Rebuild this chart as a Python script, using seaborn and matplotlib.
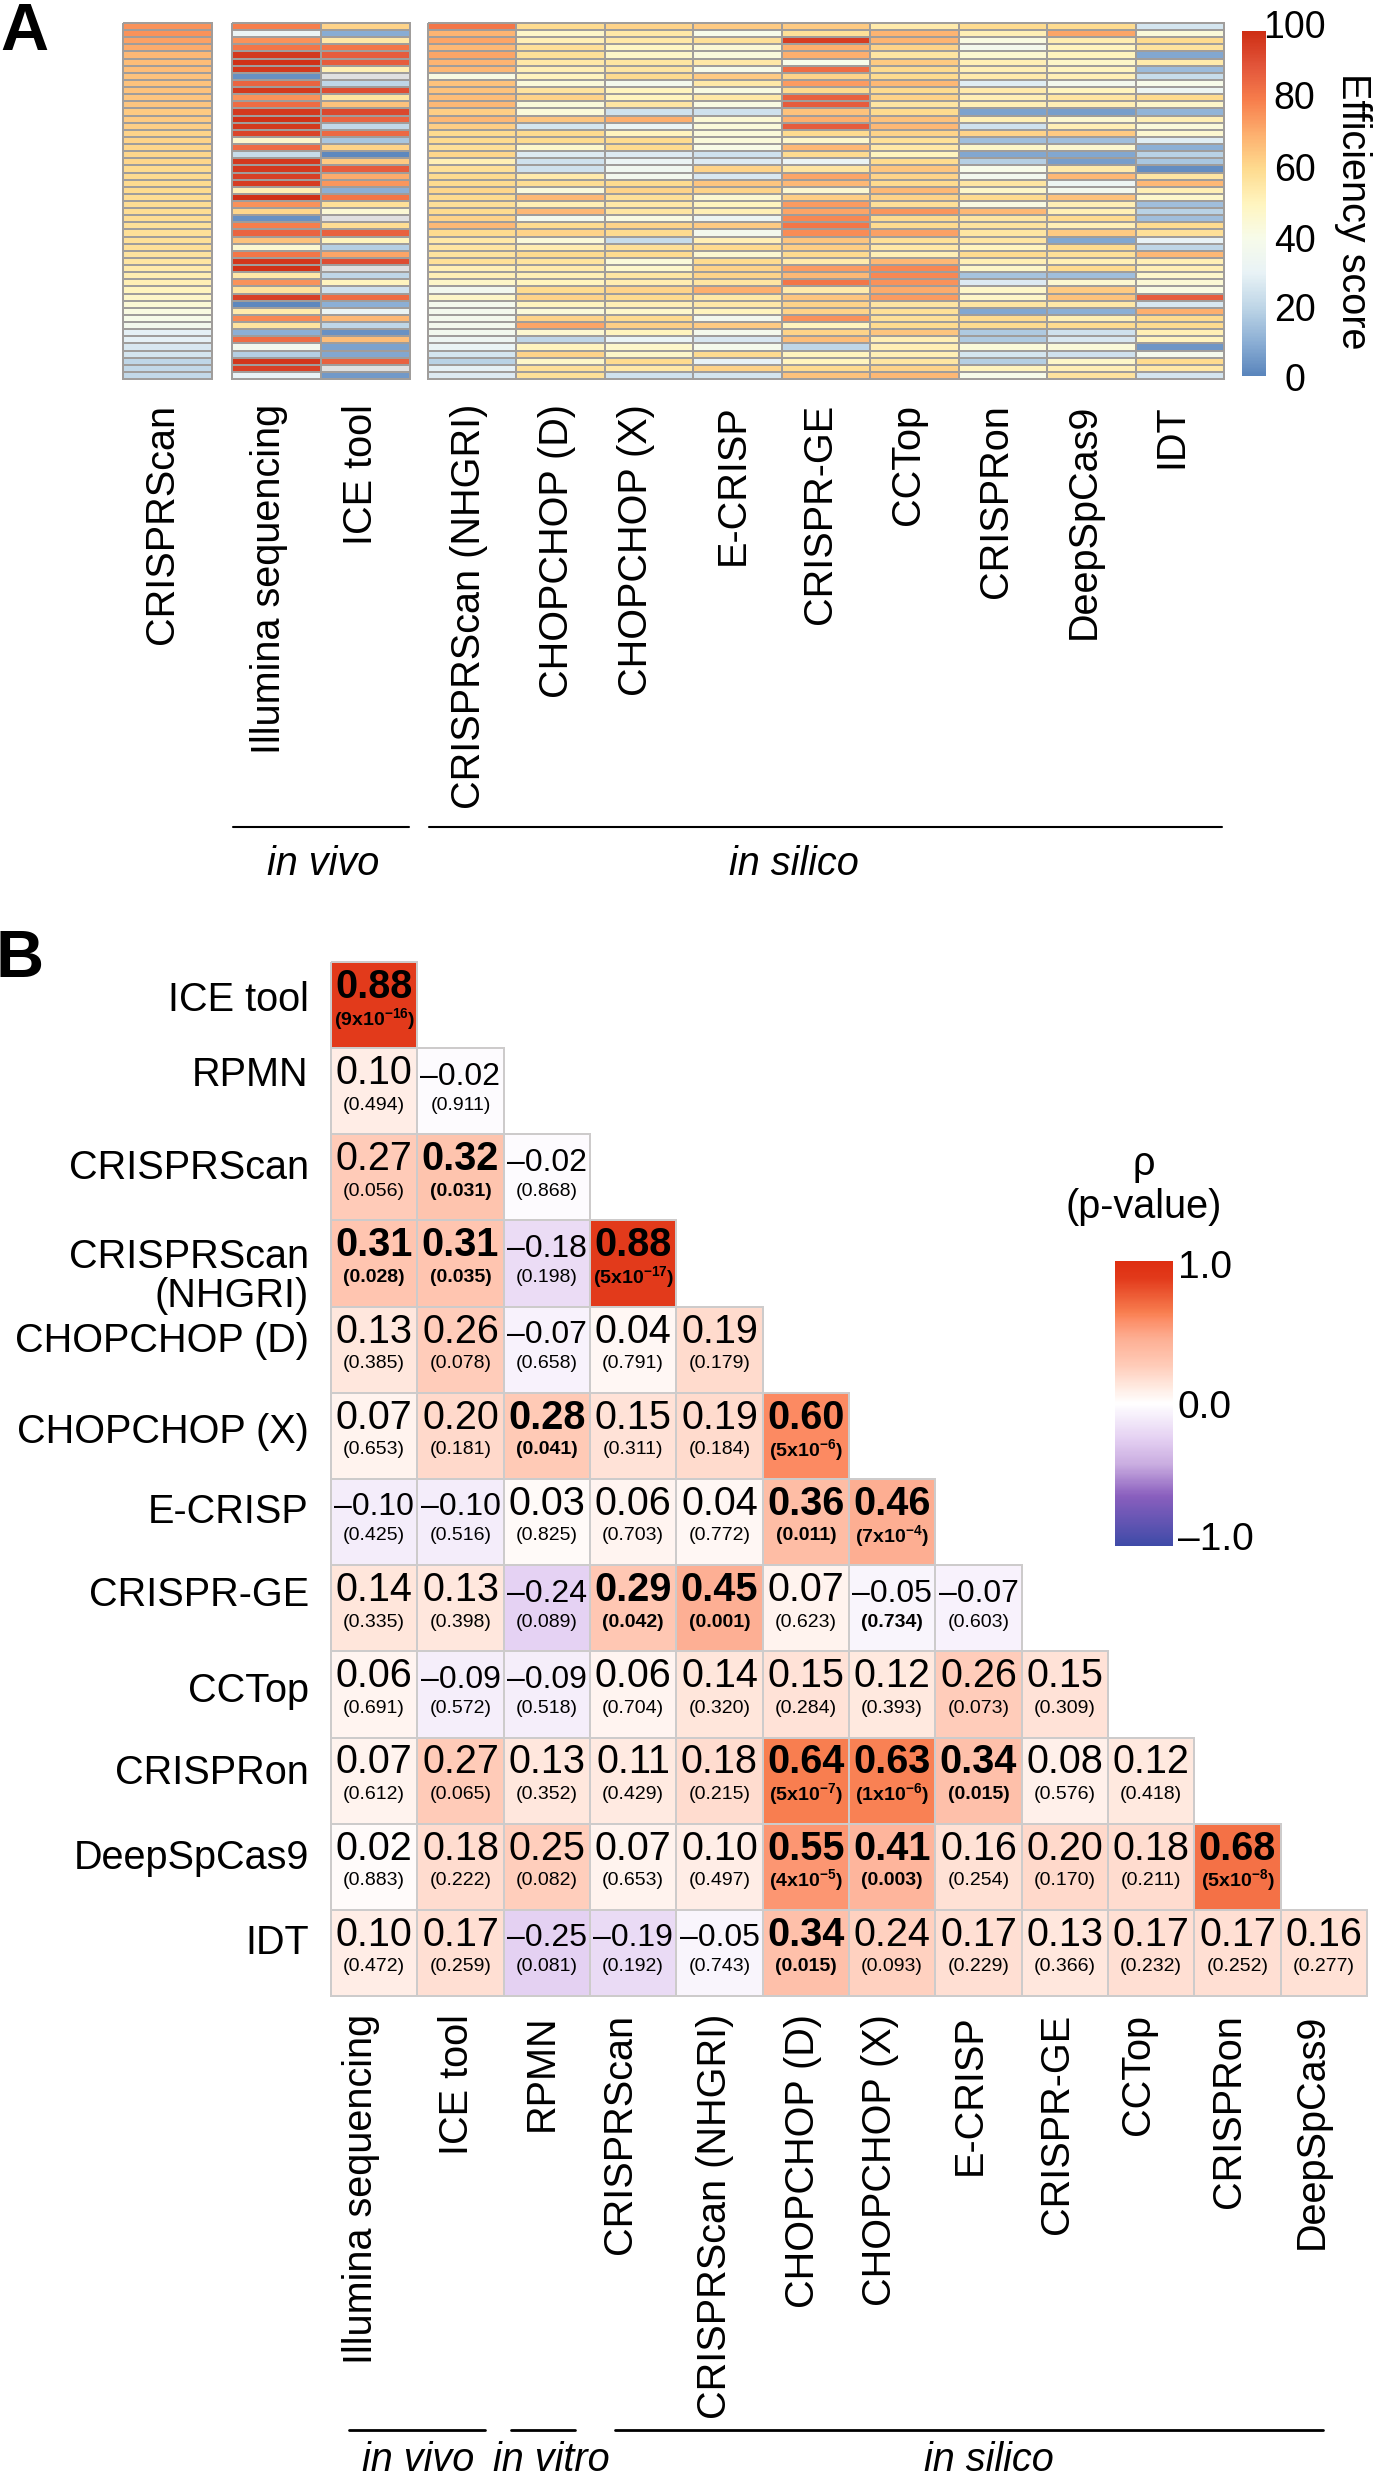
import numpy as np
import seaborn as sns
import matplotlib.pyplot as plt
from matplotlib.colors import LinearSegmentedColormap, to_rgba
from matplotlib.lines import Line2D
from matplotlib.transforms import ScaledTranslation

W, H = 1376, 2484

# panel A, scores, top row first (nan = grey cell)
crisprscan = [76, 76, 73, 71, 68, 67, 67, 66, 66, 66, 65, 65, 64, 64, 63, 62, 62, 61, 61, 61, 60, 60, 60, 60, 59,
              59, 59, 59, 58, 58, 58, 58, 57, 56, 54, 53, 52, 50, 48, 45, 42, 40, 37, 29, 29, 26, 25, 20, 21, 21]
illumina = [80, 32, 76, 82, 97, 99, 97, 3, 86, 97, 76, 84, 97, 99, 97, 94, 47, 84, 22, 97, 97, 95, 96, 52, 99,
            76, 61, 3, 80, 86, 66, 46, 82, 98, 99, 55, 76, 57, 95, 1, 54, 78, 57, 10, 84, 37, 18, 98, 95, 30]
ice_tool = [62, 9, 55, 82, 88, 88, 52, np.nan, 20, 92, 56, 66, 93, 86, 21, 85, 16, 62, 1, 64, 88, 71, 75, 10, 82,
            58, 45, np.nan, 59, 87, 50, 18, 72, 92, np.nan, 20, 50, 24, 84, 10, 32, 68, 20, 3, 67, 7, 8, 87, np.nan, 5]
nhgri = [82, 69, 72, 68, 72, 69, 68, 42, 66, 66, 67, 68, 63, 68, 63, 60, 60, 58, 61, 52, 58, 60, 60, 61, 60,
         58, 60, 62, 68, 60, 55, 56, 57, 58, 52, 52, 48, 36, 48, 38, 37, 37, 37, 36, 33, 31, 25, 19, 29, 27]
chop_d = [60, 48, 52, 58, 58, 55, 52, 50, 44, 57, 62, 44, 44, 65, 25, 60, 60, 47, 27, 24, 24, 54, 59, 43, 68,
          52, 68, 38, 60, 62, 44, 53, 60, 57, 54, 52, 50, 60, 62, 50, 44, 62, 72, 46, 20, 50, 62, 48, 58, 58]
chop_x = [62, 55, 55, 49, 48, 56, 56, 60, 38, 50, 50, 56, 24, 70, 32, 50, 60, 60, 27, 32, 35, 37, 60, 62, 58,
          55, 56, 42, 62, 60, 22, 58, 60, 44, 47, 56, 53, 62, 60, 52, 47, 60, 63, 50, 31, 47, 48, 60, 55, 24]
e_crisp = [64, 40, 58, 45, 43, 55, 40, 64, 55, 42, 55, 42, 24, 45, 44, 44, 44, 41, 24, 27, 62, 26, 65, 62, 46,
           50, 52, 33, 64, 37, 52, 60, 46, 60, 62, 62, 56, 70, 55, 55, 50, 37, 64, 38, 26, 39, 60, 30, 62, 25]
crispr_ge = [64, 58, 96, 70, 70, 40, 84, 62, 74, 60, 87, 88, 66, 70, 88, 60, 47, 68, 60, 32, 56, 72, 68, 46, 63,
             74, 72, 78, 82, 77, 65, 63, 60, 54, 74, 68, 82, 54, 65, 62, 62, 76, 50, 62, 67, 20, 50, 50, 60, 66]
cctop = [54, 69, 69, 62, 56, 64, 60, 60, 68, 60, 62, 56, 60, 66, 68, 62, 58, 55, 50, 60, 65, 62, 60, 68, 62,
         58, 75, 60, 60, 73, 58, 55, 52, 68, 78, 78, 76, 71, 74, 56, 58, 58, 60, 65, 52, 52, 52, 56, 62, 68]
crispron = [60, 52, 42, 38, 46, 52, 52, 54, 28, 54, 52, 52, 7, 52, 24, 62, 14, 48, 8, 18, 40, 36, 56, 48, 60,
            42, 68, 56, 57, 56, 56, 50, 60, 52, 48, 15, 27, 48, 48, 56, 8, 60, 60, 17, 17, 44, 25, 18, 50, 40]
deepspcas9 = [60, 72, 53, 50, 50, 48, 50, 52, 37, 50, 56, 52, 6, 46, 52, 64, 14, 46, 8, 6, 54, 68, 33, 37, 66,
              52, 52, 60, 52, 64, 8, 60, 58, 52, 60, 14, 46, 64, 66, 55, 10, 52, 60, 24, 26, 44, 24, 48, 52, 57]
idt = [25, 44, 60, 57, 8, 54, 13, 22, 40, 33, 60, 48, 11, 52, 44, 46, 28, 10, 19, 16, 2, 56, 68, 52, 47,
       14, 19, 14, 60, 58, 30, 20, 68, 52, 52, 47, 45, 42, 88, 26, 70, 60, 60, 52, 50, 4, 38, 60, 55, 25]

top_left = ['CRISPRScan']
top_mid = ['Illumina sequencing', 'ICE tool']
top_right = ['CRISPRScan (NHGRI)', 'CHOPCHOP (D)', 'CHOPCHOP (X)', 'E-CRISP', 'CRISPR-GE', 'CCTop',
             'CRISPRon', 'DeepSpCas9', 'IDT']
score_ticks = [0, 20, 40, 60, 80, 100]

# panel B
row_names = ['ICE tool', 'RPMN', 'CRISPRScan', 'CRISPRScan\n(NHGRI)', 'CHOPCHOP (D)', 'CHOPCHOP (X)', 'E-CRISP',
             'CRISPR-GE', 'CCTop', 'CRISPRon', 'DeepSpCas9', 'IDT']
col_names = ['Illumina sequencing', 'ICE tool', 'RPMN', 'CRISPRScan', 'CRISPRScan (NHGRI)', 'CHOPCHOP (D)',
             'CHOPCHOP (X)', 'E-CRISP', 'CRISPR-GE', 'CCTop', 'CRISPRon', 'DeepSpCas9']
rho = [[0.88],
       [0.10, -0.02],
       [0.27, 0.32, -0.02],
       [0.31, 0.31, -0.18, 0.88],
       [0.13, 0.26, -0.07, 0.04, 0.19],
       [0.07, 0.20, 0.28, 0.15, 0.19, 0.60],
       [-0.10, -0.10, 0.03, 0.06, 0.04, 0.36, 0.46],
       [0.14, 0.13, -0.24, 0.29, 0.45, 0.07, -0.05, -0.07],
       [0.06, -0.09, -0.09, 0.06, 0.14, 0.15, 0.12, 0.26, 0.15],
       [0.07, 0.27, 0.13, 0.11, 0.18, 0.64, 0.63, 0.34, 0.08, 0.12],
       [0.02, 0.18, 0.25, 0.07, 0.10, 0.55, 0.41, 0.16, 0.20, 0.18, 0.68],
       [0.10, 0.17, -0.25, -0.19, -0.05, 0.34, 0.24, 0.17, 0.13, 0.17, 0.17, 0.16]]
pvals = [['(9x10^{-16})'],
         ['(0.494)', '(0.911)'],
         ['(0.056)', '(0.031)', '(0.868)'],
         ['(0.028)', '(0.035)', '(0.198)', '(5x10^{-17})'],
         ['(0.385)', '(0.078)', '(0.658)', '(0.791)', '(0.179)'],
         ['(0.653)', '(0.181)', '(0.041)', '(0.311)', '(0.184)', '(5x10^{-6})'],
         ['(0.425)', '(0.516)', '(0.825)', '(0.703)', '(0.772)', '(0.011)', '(7x10^{-4})'],
         ['(0.335)', '(0.398)', '(0.089)', '(0.042)', '(0.001)', '(0.623)', '(0.734)', '(0.603)'],
         ['(0.691)', '(0.572)', '(0.518)', '(0.704)', '(0.320)', '(0.284)', '(0.393)', '(0.073)', '(0.309)'],
         ['(0.612)', '(0.065)', '(0.352)', '(0.429)', '(0.215)', '(5x10^{-7})', '(1x10^{-6})', '(0.015)', '(0.576)',
          '(0.418)'],
         ['(0.883)', '(0.222)', '(0.082)', '(0.653)', '(0.497)', '(4x10^{-5})', '(0.003)', '(0.254)', '(0.170)',
          '(0.211)', '(5x10^{-8})'],
         ['(0.472)', '(0.259)', '(0.081)', '(0.192)', '(0.743)', '(0.015)', '(0.093)', '(0.229)', '(0.366)', '(0.232)',
          '(0.252)', '(0.277)']]
# significant cells are bold, (0.734) is bold in the p-value only
p_only_bold = ['(0.734)']
rho_ticks = [-1, 0, 1]
rho_tick_labels = ['\u20131.0', '0.0', '1.0']

sns.set_theme(style='white')
plt.rcParams['font.family'] = ['Liberation Sans', 'DejaVu Sans']
plt.rcParams['mathtext.fontset'] = 'custom'
plt.rcParams['mathtext.rm'] = 'Liberation Sans'
plt.rcParams['mathtext.bf'] = 'Liberation Sans:bold'
plt.rcParams['axes.unicode_minus'] = False
plt.rcParams['text.color'] = 'black'
plt.rcParams['xtick.color'] = 'black'
plt.rcParams['ytick.color'] = 'black'

score_cmap = LinearSegmentedColormap.from_list('score', [
    (0.0, '#5A85BC'), (0.1, '#8DB0D5'), (0.2, '#BFD6E7'), (0.3, '#E9F3F6'), (0.4, '#F7FBE9'), (0.5, '#FFF5BF'),
    (0.6, '#FEDB8F'), (0.7, '#FDB06F'), (0.8, '#F77E4C'), (0.9, '#E2553A'), (1.0, '#CE2E14')])
score_cmap.set_bad('#E0E0E0')
rho_cmap = LinearSegmentedColormap.from_list('rho', [
    (0.0, '#3F4BA8'), (0.175, '#8A5FBE'), (0.285, '#C9ACE0'), (0.375, '#E4D0F2'), (0.5, '#FFFFFF'), (0.55, '#FFEDE5'),
    (0.635, '#FFCBB8'), (0.73, '#FDAE92'), (0.8, '#FC8A62'), (0.82, '#F87E50'), (0.94, '#E23A1B'), (1.0, '#DE2E10')])


def px_axes(fig, left, top, right, bottom):
    return fig.add_axes([left / W, 1 - bottom / H, (right - left) / W, (bottom - top) / H])


def shift(label, fig, dx=0, dy=0):
    # dx, dy in pixels, dy down
    label.set_transform(label.get_transform() + ScaledTranslation(dx / 100, -dy / 100, fig.dpi_scale_trans))


def bracket(fig, x0, x1, y, lw):
    fig.add_artist(Line2D([x0 / W, x1 / W], [1 - y / H, 1 - y / H], color='black', lw=lw))


def group_text(fig, x, y, text):
    fig.text(x / W, 1 - y / H, text, fontsize=28.5, style='italic', ha='center', va='center')


def score_panel(fig, box, columns, names, offsets, cax=None):
    ax = px_axes(fig, *box)
    values = np.array(columns, dtype=float).T
    sns.heatmap(values, ax=ax, cmap=score_cmap, vmin=0, vmax=100, linewidths=1.25, linecolor='#A09D9B',
                xticklabels=names, yticklabels=False, cbar=cax is not None, cbar_ax=cax)
    ax.collections[0].set_clip_on(False)
    ax.tick_params(axis='x', length=0, pad=18, labelsize=28.5)
    for label, dx in zip(ax.get_xticklabels(), offsets):
        label.set_rotation(90)
        label.set_ha('center')
        label.set_va('top')
        shift(label, fig, dx=dx)
    return ax


fig = plt.figure(figsize=(W / 100, H / 100), dpi=100)

# panel A
cax_top = px_axes(fig, 1242, 31, 1265.5, 376)
score_panel(fig, (123, 23, 212, 379), [crisprscan], top_left, [-5.5])
score_panel(fig, (232, 23, 410, 379), [illumina, ice_tool], top_mid, [-8, -4.5])
score_panel(fig, (428, 23, 1224, 379),
            [nhgri, chop_d, chop_x, e_crisp, crispr_ge, cctop, crispron, deepspcas9, idt],
            top_right, [-3, -4, -13, -5, -6, -6, -7, -8, -8], cax=cax_top)

cax_top.set_yticks(score_ticks)
cax_top.set_yticklabels([str(t) for t in score_ticks])
cax_top.tick_params(axis='y', length=0, pad=21, labelsize=27)
for label, dy in zip(cax_top.get_yticklabels(), [1, 0, 0, -2, -5, -7]):
    label.set_ha('center')
    shift(label, fig, dy=dy)
for spine in cax_top.spines.values():
    spine.set_visible(False)
cax_top.collections[0].set_edgecolor('face')
fig.text(1353 / W, 1 - 211 / H, 'Efficiency score', fontsize=28.5, rotation=270, ha='center', va='center')

bracket(fig, 233, 409, 826.5, 1.5)
bracket(fig, 429, 1222, 826.5, 1.5)
group_text(fig, 323, 864, 'in vivo')
group_text(fig, 794, 864, 'in silico')
fig.text(0 / W, 1 - 33 / H, 'A', fontsize=48, fontweight='bold', ha='left', va='center')
fig.text(-4 / W, 1 - 960 / H, 'B', fontsize=48, fontweight='bold', ha='left', va='center')

# panel B
n = len(row_names)
rho_grid = np.full((n, n), np.nan)
for i, row in enumerate(rho):
    rho_grid[i, :len(row)] = row
empty = np.isnan(rho_grid)

ax = px_axes(fig, 331, 962, 1367, 1996)
cax_rho = px_axes(fig, 1115, 1261, 1173, 1546)
sns.heatmap(rho_grid, ax=ax, cmap=rho_cmap, vmin=-1, vmax=1, mask=empty, linewidths=1.1,
            linecolor='#CDCBCB', xticklabels=col_names, yticklabels=row_names, square=False, cbar_ax=cax_rho)
mesh = ax.collections[0]
mesh.set_clip_on(False)
# no grid over the empty upper triangle
edges = np.tile(to_rgba('#CDCBCB'), (n * n, 1))
edges[empty.ravel(), 3] = 0
mesh.set_edgecolor(edges)
ax.tick_params(axis='x', length=0, pad=13, labelsize=28.5)
ax.tick_params(axis='y', length=0, pad=16, labelsize=28.5)
for label, dx in zip(ax.get_xticklabels(), [-13, -4, -5, -13, -4, -3, -12, -9, -8, -13, -9, -12]):
    label.set_rotation(90)
    label.set_ha('center')
    label.set_va('top')
    shift(label, fig, dx=dx)
for label, dy in zip(ax.get_yticklabels(), [-5, -16, -9, 13, -9, -4, -10, -13, -3, -8, -9, -10]):
    label.set_rotation(0)
    label.set_linespacing(1.05)
    shift(label, fig, dy=dy)

for i, row in enumerate(rho):
    for j, value in enumerate(row):
        p = pvals[i][j]
        strong = '^' in p or float(p[1:-1]) < 0.05
        if value < 0:
            ax.text(j + 0.5, i + 0.33, '\u2013%.2f' % abs(value), fontsize=23, ha='center', va='center')
        else:
            ax.text(j + 0.5, i + 0.29, '%.2f' % value, fontsize=28.5, ha='center', va='center',
                    fontweight='bold' if strong else 'normal')
        if '^' in p:
            ax.text(j + 0.5, i + 0.66, '$\\mathbf{' + p + '}$', fontsize=14, ha='center', va='center')
        else:
            ax.text(j + 0.5, i + 0.66, p, fontsize=14, ha='center', va='center',
                    fontweight='bold' if strong or p in p_only_bold else 'normal')

cax_rho.set_yticks(rho_ticks)
cax_rho.set_yticklabels(rho_tick_labels)
cax_rho.tick_params(axis='y', length=0, pad=3.5, labelsize=28)
for label, dy in zip(cax_rho.get_yticklabels(), [-10, 0, 3]):
    shift(label, fig, dy=dy)
for spine in cax_rho.spines.values():
    spine.set_visible(False)
cax_rho.collections[0].set_edgecolor('face')
fig.text(1144 / W, 1 - 1164 / H, '\u03c1', fontsize=28.5, ha='center', va='center')
fig.text(1144 / W, 1 - 1207 / H, '(p-value)', fontsize=28.5, ha='center', va='center')

bracket(fig, 349, 485, 2430, 2)
bracket(fig, 511, 575, 2430, 2)
bracket(fig, 615, 1323, 2430, 2)
group_text(fig, 418, 2460, 'in vivo')
group_text(fig, 551, 2460, 'in vitro')
group_text(fig, 989, 2460, 'in silico')

fig.savefig('out.png', dpi=100)
